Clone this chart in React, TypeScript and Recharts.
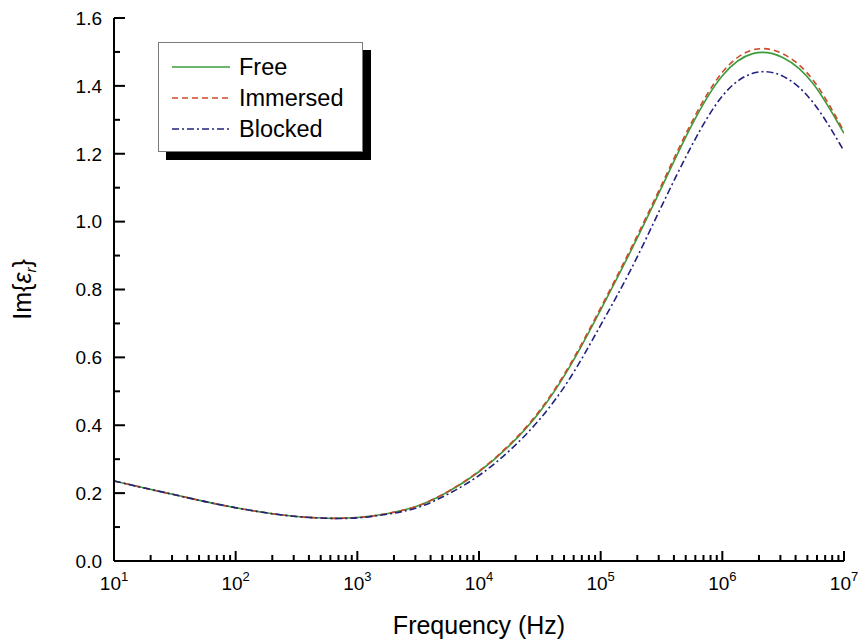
import React from "react";
import { LineChart, Line, XAxis, YAxis, Legend } from "recharts";

// frequency (Hz), quarter-decade steps
const freq = [
  10, 17.8, 31.6, 56.2, 100, 178, 316, 562, 1000, 1778, 3162, 5623, 10000,
  17783, 31623, 56234, 100000, 177828, 316228, 562341, 1000000, 1778279,
  3162278, 5623413, 10000000,
];
const free = [
  0.236, 0.215, 0.195, 0.175, 0.157, 0.142, 0.131, 0.126, 0.128, 0.14, 0.163,
  0.205, 0.263, 0.34, 0.44, 0.575, 0.74, 0.915, 1.1, 1.285, 1.43, 1.495,
  1.483, 1.405, 1.26,
];
const immersed = [
  0.236, 0.215, 0.195, 0.175, 0.157, 0.142, 0.131, 0.126, 0.128, 0.14, 0.163,
  0.206, 0.265, 0.343, 0.444, 0.58, 0.746, 0.922, 1.108, 1.294, 1.44, 1.506,
  1.494, 1.415, 1.266,
];
const blocked = [
  0.236, 0.215, 0.195, 0.175, 0.157, 0.142, 0.131, 0.126, 0.127, 0.138, 0.158,
  0.198, 0.252, 0.325, 0.418, 0.54, 0.695, 0.86, 1.045, 1.225, 1.37, 1.437,
  1.428, 1.349, 1.208,
];

const decades = [10, 100, 1000, 10000, 100000, 1000000];
const multipliers = [1, 2, 3, 4, 5, 6, 7, 8, 9];
const xTicks = [...decades.flatMap((d) => multipliers.map((m) => d * m)), 10000000];
const yTicks = [0, 0.1, 0.2, 0.3, 0.4, 0.5, 0.6, 0.7, 0.8, 0.9, 1.0, 1.1, 1.2, 1.3, 1.4, 1.5, 1.6];

const series = [
  { key: "free", name: "Free", color: "#3c9c3c", dash: undefined },
  { key: "immersed", name: "Immersed", color: "#cc4a28", dash: "6 4" },
  { key: "blocked", name: "Blocked", color: "#22227e", dash: "7 3 2 3" },
];

const data = freq.map((f, i) => ({
  f,
  free: free[i],
  immersed: immersed[i],
  blocked: blocked[i],
}));

const FONT = "'Liberation Sans', Arial, Helvetica, sans-serif";

const isDecade = (v: number) =>
  Math.abs(Math.log10(v) - Math.round(Math.log10(v))) < 1e-9;
const isMajorY = (v: number) => Math.round(v * 10) % 2 === 0;

const xTick = (side: "bottom" | "top") => (props: any) => {
  const { x, y, payload } = props;
  const v = payload.value;
  const major = isDecade(v);
  const len = major ? 10 : 6;
  const dir = side === "bottom" ? -1 : 1;
  return (
    <g>
      <line x1={x} x2={x} y1={y} y2={y + dir * len} stroke="#000" strokeWidth={2} />
      {side === "bottom" && major && (
        <text x={x} y={y + 29} textAnchor="middle" fontFamily={FONT} fontSize={19} fill="#000">
          <tspan>10</tspan>
          <tspan dy={-9} fontSize={13}>{Math.round(Math.log10(v))}</tspan>
        </text>
      )}
    </g>
  );
};

const yTick = (side: "left" | "right") => (props: any) => {
  const { x, y, payload } = props;
  const v = payload.value;
  const major = isMajorY(v);
  const len = major ? 11 : 6;
  const dir = side === "left" ? 1 : -1;
  return (
    <g>
      <line x1={x} x2={x + dir * len} y1={y} y2={y} stroke="#000" strokeWidth={2} />
      {side === "left" && major && (
        <text x={x - 12} y={y} dy="0.36em" textAnchor="end" fontFamily={FONT} fontSize={19} fill="#000">
          {v.toFixed(1)}
        </text>
      )}
    </g>
  );
};

const renderLegend = () => (
  <div
    style={{
      width: 203,
      height: 108,
      border: "1px solid #7a7a7a",
      background: "#fff",
      boxShadow: "8px 8px 0 #000",
      fontFamily: FONT,
      fontSize: 23.5,
      color: "#000",
      position: "relative",
    }}
  >
    {series.map((s, i) => (
      <div
        key={s.key}
        style={{ position: "absolute", left: 13, top: 10 + i * 31, height: 28, display: "flex", alignItems: "center" }}
      >
        <svg width={60} height={10}>
          <line x1={0} x2={58} y1={5} y2={5} stroke={s.color} strokeWidth={1.5} strokeDasharray={s.dash} />
        </svg>
        <span style={{ marginLeft: 7, lineHeight: "28px" }}>{s.name}</span>
      </div>
    ))}
  </div>
);

const XTitle = (props: any) => {
  const { x, y, width } = props.viewBox;
  return (
    <text x={x + width / 2} y={y + 73} textAnchor="middle" fontFamily={FONT} fontSize={25} fill="#000">
      Frequency (Hz)
    </text>
  );
};

const YTitle = (props: any) => {
  const { x, y, height } = props.viewBox;
  const cx = x + 31;
  const cy = y + height / 2;
  return (
    <text
      x={cx}
      y={cy}
      transform={`rotate(-90 ${cx} ${cy})`}
      textAnchor="middle"
      fontFamily={FONT}
      fontSize={25}
      fill="#000"
    >
      <tspan>Im{"{"}</tspan>
      <tspan fontStyle="italic">ε</tspan>
      <tspan dy={5} fontSize={15} fontStyle="italic">r</tspan>
      <tspan dy={-5}>{"}"}</tspan>
    </text>
  );
};

const axisLine = { stroke: "#000", strokeWidth: 2 };

export default function App() {
  return (
    <div style={{ position: "absolute", left: 0, top: 0, background: "#fff" }}>
      <LineChart width={860} height={639} data={data} margin={{ top: 18, right: 16, left: 0, bottom: 0 }}>
        <XAxis
          xAxisId="b"
          dataKey="f"
          type="number"
          scale="log"
          domain={[10, 10000000]}
          allowDataOverflow
          ticks={xTicks}
          interval={0}
          height={78}
          tickSize={0}
          tickMargin={0}
          tickLine={false}
          axisLine={axisLine}
          tick={xTick("bottom")}
          label={<XTitle />}
        />
        <XAxis
          xAxisId="t"
          orientation="top"
          dataKey="f"
          type="number"
          scale="log"
          domain={[10, 10000000]}
          allowDataOverflow
          ticks={xTicks}
          interval={0}
          height={0}
          tickSize={0}
          tickMargin={0}
          tickLine={false}
          axisLine={axisLine}
          tick={xTick("top")}
        />
        <YAxis
          yAxisId="l"
          type="number"
          domain={[0, 1.6]}
          allowDataOverflow
          ticks={yTicks}
          interval={0}
          width={114}
          tickSize={0}
          tickMargin={0}
          tickLine={false}
          axisLine={axisLine}
          tick={yTick("left")}
          label={<YTitle />}
        />
        <YAxis
          yAxisId="r"
          orientation="right"
          type="number"
          domain={[0, 1.6]}
          allowDataOverflow
          ticks={yTicks}
          interval={0}
          width={0}
          tickSize={0}
          tickMargin={0}
          tickLine={false}
          axisLine={axisLine}
          tick={yTick("right")}
        />
        <Legend
          layout="vertical"
          align="center"
          verticalAlign="middle"
          content={renderLegend}
          wrapperStyle={{ position: "absolute", left: 158, top: 42, width: 205, height: 110 }}
        />
        {series.map((s) => (
          <Line
            key={s.key}
            xAxisId="b"
            yAxisId="l"
            type="natural"
            dataKey={s.key}
            name={s.name}
            stroke={s.color}
            strokeWidth={1.6}
            strokeDasharray={s.dash}
            dot={false}
            activeDot={false}
            isAnimationActive={false}
          />
        ))}
      </LineChart>
    </div>
  );
}
